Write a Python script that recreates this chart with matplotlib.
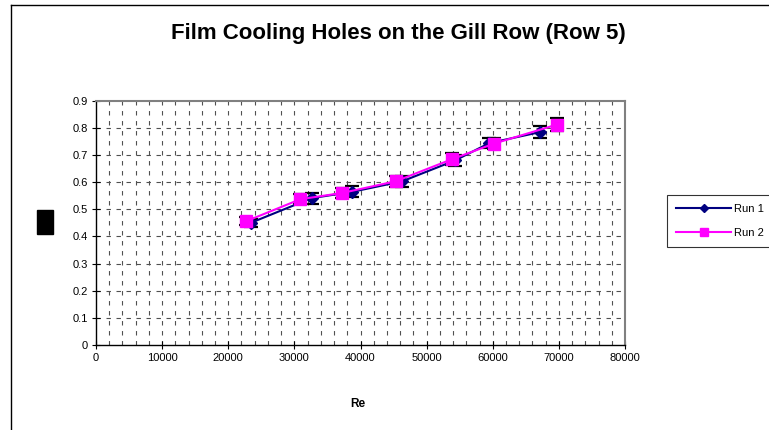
import numpy as np
import matplotlib.pyplot as plt
from matplotlib.patches import Rectangle
from matplotlib.lines import Line2D

# Data
re_run1 = [23500, 32600, 38700, 46300, 54300, 59500, 67100]
val_run1 = [0.451, 0.541, 0.564, 0.603, 0.680, 0.744, 0.784]
err_run1 = [0.015, 0.020, 0.020, 0.020, 0.020, 0.020, 0.021]

re_run2 = [22700, 30900, 37200, 45300, 53900, 60200, 69700]
val_run2 = [0.456, 0.537, 0.560, 0.603, 0.685, 0.742, 0.812]
err_run2 = [0.015, 0.018, 0.018, 0.021, 0.023, 0.020, 0.024]

x_ticks = [0, 10000, 20000, 30000, 40000, 50000, 60000, 70000, 80000]
y_ticks = [0, 0.1, 0.2, 0.3, 0.4, 0.5, 0.6, 0.7, 0.8, 0.9]

plt.rcParams['font.family'] = ['Liberation Sans', 'DejaVu Sans']

fig = plt.figure(figsize=(7.69, 4.30), dpi=100)
ax = fig.add_axes([96 / 769, 1 - 345 / 430, (625 - 96) / 769, (345 - 100.7) / 430])

# Dashed grid: vertical every 2000, horizontal every 0.1
for xv in np.arange(2000, 80000, 2000):
    ax.axvline(xv, color='#505050', lw=0.8, ls=(0, (4, 5)), zorder=0)
for yv in y_ticks[1:-1]:
    ax.axhline(yv, color='#505050', lw=0.8, ls=(0, (4, 5)), zorder=0)

# Error bars
ax.errorbar(re_run1, val_run1, yerr=err_run1, fmt='none', ecolor='black',
            elinewidth=1, capsize=4.7, capthick=1.6, zorder=2)
ax.errorbar(re_run2, val_run2, yerr=err_run2, fmt='none', ecolor='black',
            elinewidth=1, capsize=4.7, capthick=1.6, zorder=2)

# Series
ax.plot(re_run1, val_run1, color='#000080', lw=1.5, marker='D', markersize=6.5,
        label='Run 1', zorder=3)
ax.plot(re_run2, val_run2, color='#FF00FF', lw=1.5, marker='s', markersize=8.3,
        label='Run 2', zorder=4)

ax.set_xlim(0, 80000)
ax.set_ylim(0, 0.9)
ax.set_xticks(x_ticks)
ax.set_xticklabels([str(v) for v in x_ticks], fontsize=8)
ax.set_yticks(y_ticks)
ax.set_yticklabels(['0'] + [f'{v:.1f}' for v in y_ticks[1:]], fontsize=8)
ax.tick_params(direction='inout', length=6, width=0.8, colors='black', pad=3)

for side in ['top', 'right']:
    ax.spines[side].set_color('#808080')
    ax.spines[side].set_linewidth(1.5)
for side in ['left', 'bottom']:
    ax.spines[side].set_color('black')
    ax.spines[side].set_linewidth(1.0)

# Title and x label
fig.text(398 / 769, 1 - 33 / 430, 'Film Cooling Holes on the Gill Row (Row 5)',
         ha='center', va='center', fontsize=16, fontweight='bold')
fig.text(358 / 769, 1 - 404 / 430, 'Re', ha='center', va='center',
         fontsize=8.5, fontweight='bold')

# Black block where the y label sits
fig.add_artist(Rectangle((37 / 769, 1 - 234 / 430), 16 / 769, 24 / 430,
                         transform=fig.transFigure, color='black'))

# Chart area border (left and top edges)
fig.add_artist(Line2D([11 / 769, 11 / 769], [0, 1 - 5 / 430],
                      transform=fig.transFigure, color='black', lw=1))
fig.add_artist(Line2D([11 / 769, 1], [1 - 5 / 430, 1 - 5 / 430],
                      transform=fig.transFigure, color='black', lw=1))

leg = fig.legend(loc='upper left', bbox_to_anchor=(667 / 769, 1 - 195 / 430),
                 fontsize=8, frameon=True, fancybox=False, handlelength=5.0,
                 borderaxespad=0, borderpad=0.8, labelspacing=1.3,
                 handletextpad=0.2, markerscale=0.7)
leg.get_frame().set_edgecolor('black')
leg.get_frame().set_linewidth(0.8)

fig.savefig('out.png', dpi=100)
